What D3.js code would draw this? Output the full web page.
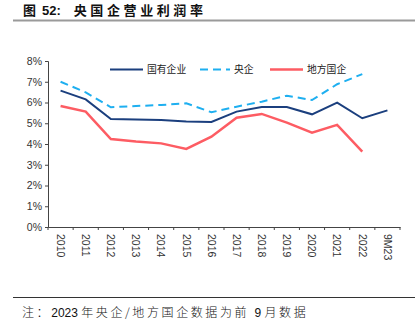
<!DOCTYPE html>
<meta charset="utf-8">
<title>央国企营业利润率</title>
<style>
body { margin:0; background:#fff; }
svg { display:block; font-family: "Liberation Sans", Arial, "Noto Sans CJK SC", sans-serif; }
.axis path, .axis line { stroke:#444; stroke-width:1; }
.axis text { fill:#333; font-size:10.5px; }
</style>
<body>
<script src="https://d3js.org/d3.v7.min.js"></script>
<script>
var years = ["2010","2011","2012","2013","2014","2015","2016","2017","2018","2019","2020","2021","2022","9M23"];
var soe     = [6.57,6.15,5.20,5.18,5.16,5.08,5.06,5.56,5.78,5.78,5.43,5.99,5.24,5.62];
var central = [7.00,6.49,5.77,5.83,5.88,5.96,5.53,5.80,6.04,6.33,6.12,6.88,7.37,null];
var local   = [5.83,5.56,4.24,4.12,4.03,3.76,4.35,5.27,5.45,5.03,4.55,4.92,3.63,null];
var yTicks  = [0,1,2,3,4,5,6,7,8];

var width = 415, height = 327;
var svg = d3.select("body").append("svg")
    .attr("width", width)
    .attr("height", height);

// header
var title = svg.append("text")
    .attr("x", 23).attr("y", 15)
    .style("font-size", "13px").style("font-weight", "bold").style("fill", "#111");
title.append("tspan").style("font-family", "'Noto Sans CJK SC', sans-serif").text("图 ");
title.append("tspan").attr("dx", 3).style("font-family", "'Liberation Sans', Arial").text("52:");
title.append("tspan").attr("dx", 13)
    .style("font-family", "'Noto Sans CJK SC', sans-serif")
    .style("letter-spacing", "3.6px")
    .text("央国企营业利润率");
svg.append("line")
    .attr("x1", 13).attr("x2", 415).attr("y1", 20.5).attr("y2", 20.5)
    .style("stroke", "#9a9a9a").style("stroke-width", 2);

var x = d3.scaleBand().domain(years).range([48, 400]);
var y = d3.scaleLinear().domain([0, 8]).range([227, 61]);

var gy = svg.append("g").attr("class", "axis")
    .attr("transform", "translate(48,0)")
    .call(d3.axisLeft(y).tickValues(yTicks).tickSize(3).tickPadding(3)
        .tickFormat(function(d){ return d + "%"; }));

var gx = svg.append("g").attr("class", "axis")
    .attr("transform", "translate(0,227)")
    .call(d3.axisBottom(x).tickSize(0).tickPadding(0));
gx.selectAll(".tick text")
    .attr("transform", "rotate(90)")
    .attr("x", 7).attr("y", 0).attr("dy", "0.35em")
    .style("text-anchor", "start");
// tick marks at band edges
gx.selectAll(".edge")
    .data(years.concat(["end"]))
    .enter().append("line")
    .attr("x1", function(d, i){ return 48 + i * x.step(); })
    .attr("x2", function(d, i){ return 48 + i * x.step(); })
    .attr("y1", 0).attr("y2", 3)
    .style("stroke", "#444");

var line = d3.line()
    .defined(function(d){ return d != null; })
    .x(function(d, i){ return x(years[i]) + x.bandwidth() / 2; })
    .y(function(d){ return y(d); });

svg.append("path").datum(central)
    .attr("d", line).attr("fill", "none")
    .style("stroke", "#1eaff0").style("stroke-width", 2).style("stroke-dasharray", "8,5");
svg.append("path").datum(local)
    .attr("d", line).attr("fill", "none")
    .style("stroke", "#fd5c63").style("stroke-width", 2.5);
svg.append("path").datum(soe)
    .attr("d", line).attr("fill", "none")
    .style("stroke", "#1b3f7e").style("stroke-width", 2);

// legend
var legend = [
  {name:"国有企业", color:"#1b3f7e", dash:null, w:2, x1:110, x2:143},
  {name:"央企", color:"#1eaff0", dash:"8,5", w:2, x1:200, x2:230},
  {name:"地方国企", color:"#fd5c63", dash:null, w:2.5, x1:270, x2:303}
];
legend.forEach(function(l){
  svg.append("line")
    .attr("x1", l.x1).attr("x2", l.x2).attr("y1", 69.5).attr("y2", 69.5)
    .style("stroke", l.color).style("stroke-width", l.w)
    .style("stroke-dasharray", l.dash);
  svg.append("text")
    .attr("x", l.x2 + 4).attr("y", 73.3)
    .style("font-size", "9.8px").style("fill", "#222")
    .style("font-family", "'Noto Sans CJK SC', sans-serif")
    .text(l.name);
});

// footer
svg.append("line")
    .attr("x1", 13).attr("x2", 415).attr("y1", 297.5).attr("y2", 297.5)
    .style("stroke", "#333").style("stroke-width", 1);
var note = svg.append("text")
    .attr("x", 22).attr("y", 316.5)
    .style("font-size", "12px").style("fill", "#111");
var noteParts = [["注：", 1], ["2023 ", 0], ["年央企/地方国企数据为前 ", 1], ["9 ", 0], ["月数据", 1]];
noteParts.forEach(function(p){
  note.append("tspan")
    .style("font-family", p[1] ? "'Noto Sans CJK SC', sans-serif" : "'Liberation Sans', Arial")
    .style("font-weight", p[1] ? 300 : 400)
    .style("letter-spacing", p[1] ? "2.6px" : "0px")
    .text(p[0]);
});
</script>
</body>
